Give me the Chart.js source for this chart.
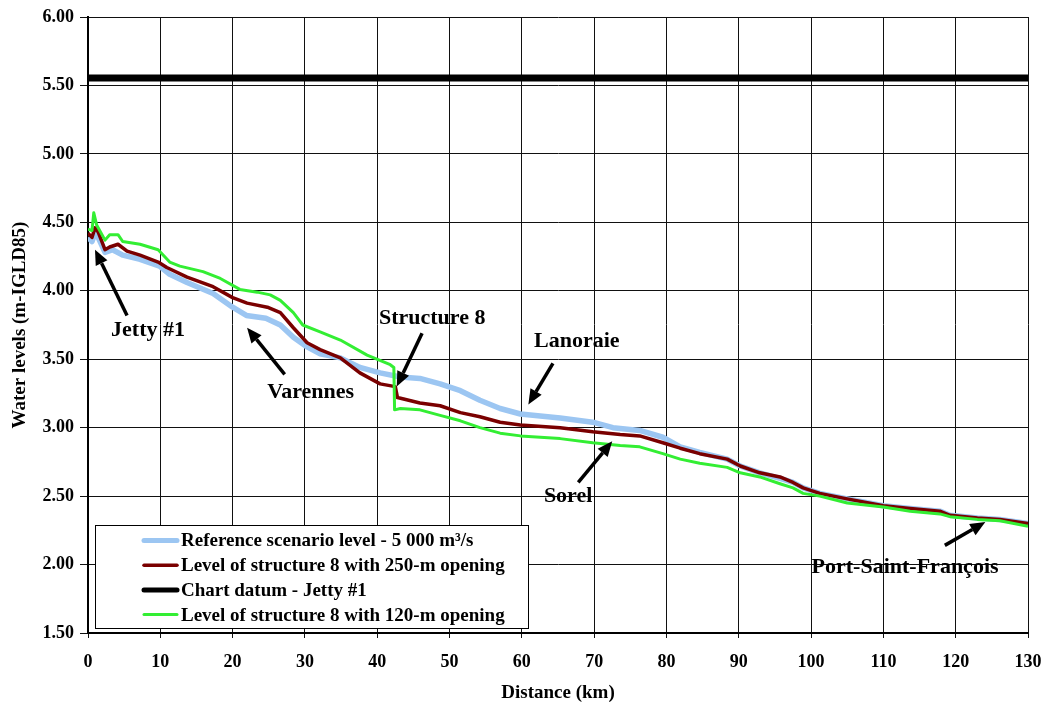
<!DOCTYPE html>
<html><head><meta charset="utf-8">
<script src="https://cdn.jsdelivr.net/npm/chart.js@4.4.1/dist/chart.umd.min.js"></script>
<style>html,body{margin:0;padding:0;background:#fff;}#wrap{position:relative;width:1043px;height:704px;}</style>
</head><body><div id="wrap"><canvas id="c" width="1043" height="704"></canvas></div>
<script>
// ---- Data ----
const refKm    = [0, 0.55, 0.97, 1.4, 2.35, 3.4, 4.8, 7.2, 9.9, 11.3, 13.7, 17.3, 20.0, 21.9, 24.6, 26.6, 28.4, 30.3, 32.1, 34.9, 37.6, 40.4, 43.2, 45.9, 48.7, 51.5, 54.2, 57.0, 59.8, 65.3, 69.8, 72.6, 76.3, 79.5, 81.9, 84.6, 88.4, 90.2, 92.9, 95.7, 97.5, 98.9, 101.2, 105.0, 110.0, 113.7, 117.8, 119.2, 123.0, 126.1, 130];
const refLevel = [4.39, 4.36, 4.42, 4.39, 4.28, 4.30, 4.26, 4.23, 4.18, 4.12, 4.06, 3.98, 3.88, 3.82, 3.80, 3.75, 3.66, 3.59, 3.54, 3.51, 3.44, 3.40, 3.37, 3.36, 3.32, 3.27, 3.20, 3.14, 3.10, 3.07, 3.04, 3.00, 2.98, 2.93, 2.86, 2.82, 2.77, 2.72, 2.67, 2.63, 2.60, 2.56, 2.52, 2.48, 2.43, 2.41, 2.39, 2.36, 2.34, 2.33, 2.30];

const s250Km    = [0, 0.55, 0.97, 1.4, 2.35, 3.0, 4.15, 5.4, 7.2, 9.7, 10.9, 13.7, 17.3, 20.0, 22.0, 24.8, 26.6, 28.4, 30.3, 32.1, 34.9, 37.6, 40.4, 42.5, 42.8, 45.9, 48.7, 51.5, 54.2, 57.0, 59.8, 65.3, 69.8, 73.6, 76.3, 79.5, 81.9, 84.6, 88.4, 90.2, 92.9, 95.7, 97.5, 98.9, 101.2, 105.0, 110.0, 113.7, 117.8, 119.2, 123.0, 126.1, 130];
const s250Level = [4.42, 4.39, 4.46, 4.43, 4.30, 4.32, 4.34, 4.29, 4.26, 4.21, 4.17, 4.10, 4.03, 3.95, 3.91, 3.88, 3.84, 3.73, 3.62, 3.57, 3.51, 3.40, 3.32, 3.30, 3.22, 3.18, 3.16, 3.11, 3.08, 3.04, 3.02, 3.00, 2.97, 2.95, 2.94, 2.89, 2.85, 2.81, 2.77, 2.72, 2.67, 2.64, 2.60, 2.56, 2.52, 2.48, 2.43, 2.41, 2.39, 2.36, 2.34, 2.33, 2.30];

const datumKm    = [0, 130];
const datumLevel = [5.555, 5.555];

const s120Km    = [0, 0.55, 0.8, 1.2, 2.35, 3.0, 4.15, 4.8, 7.2, 9.7, 11.3, 12.7, 15.9, 18.3, 21.0, 23.4, 25.2, 26.6, 28.4, 29.7, 32.1, 34.9, 38.6, 41.8, 42.3, 42.4, 43.2, 45.9, 48.7, 51.5, 54.2, 57.0, 59.8, 65.3, 69.8, 73.6, 76.3, 79.5, 81.9, 84.6, 88.4, 90.2, 92.9, 95.7, 97.5, 98.9, 101.2, 105.0, 110.0, 113.7, 117.8, 119.2, 123.0, 126.1, 130];
const s120Level = [4.45, 4.44, 4.57, 4.48, 4.37, 4.41, 4.41, 4.36, 4.34, 4.30, 4.21, 4.18, 4.14, 4.09, 4.01, 3.99, 3.97, 3.93, 3.84, 3.75, 3.70, 3.64, 3.53, 3.46, 3.44, 3.13, 3.14, 3.13, 3.09, 3.05, 3.00, 2.96, 2.94, 2.92, 2.89, 2.87, 2.86, 2.81, 2.77, 2.74, 2.71, 2.67, 2.64, 2.59, 2.56, 2.52, 2.50, 2.45, 2.42, 2.39, 2.37, 2.35, 2.33, 2.32, 2.28];

const seriesLabels = ['Reference scenario level - 5 000 m³/s', 'Level of structure 8 with 250-m opening', 'Chart datum - Jetty #1', 'Level of structure 8 with 120-m opening'];

// annotations (data units)
const annLabels      = ['Jetty #1', 'Varennes', 'Structure 8', 'Lanoraie', 'Sorel', 'Port-Saint-François'];
const annTextKm      = [8.3, 30.8, 47.6, 67.6, 66.4, 113.0];
const annTextLevel   = [3.71, 3.26, 3.80, 3.63, 2.50, 1.98];
const arrowFromKm    = [5.4, 27.2, 46.2, 64.3, 67.8, 118.5];
const arrowFromLevel = [3.82, 3.39, 3.69, 3.47, 2.60, 2.14];
const arrowToKm      = [0.97, 22.0, 42.7, 60.9, 72.5, 124.1];
const arrowToLevel   = [4.30, 3.73, 3.30, 3.17, 2.90, 2.31];

const pts = (xs, ys) => xs.map((x, i) => ({x: x, y: ys[i]}));
const FONT = '"Liberation Serif", "Times New Roman", serif';

const colors = ['#9cc6f2', '#7a0000', '#000000', '#33ee33'];
const widths = [5.5, 3.5, 7, 3];

const overlay = {
  id: 'overlay',
  afterDraw(chart) {
    const ctx = chart.ctx, xs = chart.scales.x, ys = chart.scales.y;
    ctx.save();
    // annotations
    ctx.font = 'bold 22px ' + FONT;
    ctx.fillStyle = '#000';
    ctx.textAlign = 'center';
    ctx.textBaseline = 'middle';
    for (let i = 0; i < annLabels.length; i++) {
      ctx.fillText(annLabels[i], xs.getPixelForValue(annTextKm[i]), ys.getPixelForValue(annTextLevel[i]));
      const x1 = xs.getPixelForValue(arrowFromKm[i]), y1 = ys.getPixelForValue(arrowFromLevel[i]);
      const x2 = xs.getPixelForValue(arrowToKm[i]), y2 = ys.getPixelForValue(arrowToLevel[i]);
      const a = Math.atan2(y2 - y1, x2 - x1), hl = 15, hw = 6.5;
      const bx = x2 - hl * Math.cos(a), by = y2 - hl * Math.sin(a);
      ctx.strokeStyle = '#000'; ctx.lineWidth = 3.5; ctx.lineCap = 'butt';
      ctx.beginPath(); ctx.moveTo(x1, y1); ctx.lineTo(bx, by); ctx.stroke();
      ctx.beginPath();
      ctx.moveTo(x2, y2);
      ctx.lineTo(bx + hw * Math.sin(a), by - hw * Math.cos(a));
      ctx.lineTo(bx - hw * Math.sin(a), by + hw * Math.cos(a));
      ctx.closePath(); ctx.fill();
    }
    // legend box
    const L = 95, T = 525, W = 433, H = 103;
    ctx.fillStyle = '#fff';
    ctx.fillRect(L, T, W, H);
    ctx.strokeStyle = '#000'; ctx.lineWidth = 1;
    ctx.strokeRect(L + 0.5, T + 0.5, W, H);
    ctx.font = 'bold 19px ' + FONT;
    ctx.textAlign = 'left';
    [0, 1, 2, 3].forEach((di, r) => {
      const ds = chart.data.datasets[di];
      const y = T + 15.5 + r * 24.7;
      ctx.strokeStyle = ds.borderColor; ctx.lineWidth = Math.min(ds.borderWidth, 5); ctx.lineCap = 'round';
      ctx.beginPath(); ctx.moveTo(144, y); ctx.lineTo(177, y); ctx.stroke();
      ctx.fillStyle = '#000';
      ctx.fillText(ds.label, 181, y + 1);
    });
    ctx.restore();
  }
};

new Chart(document.getElementById('c'), {
  type: 'line',
  data: {
    datasets: [
      {label: seriesLabels[0], data: pts(refKm, refLevel), borderColor: colors[0], borderWidth: widths[0], order: 4},
      {label: seriesLabels[1], data: pts(s250Km, s250Level), borderColor: colors[1], borderWidth: widths[1], order: 3},
      {label: seriesLabels[2], data: pts(datumKm, datumLevel), borderColor: colors[2], borderWidth: widths[2], order: 1},
      {label: seriesLabels[3], data: pts(s120Km, s120Level), borderColor: colors[3], borderWidth: widths[3], order: 2}
    ].map(d => Object.assign(d, {pointRadius: 0, tension: 0, fill: false, borderJoinStyle: 'round', borderCapStyle: 'butt'}))
  },
  options: {
    responsive: false,
    animation: false,
    devicePixelRatio: 1,
    layout: {padding: {top: 17, right: 15, left: 0, bottom: 0}},
    plugins: {legend: {display: false}, tooltip: {enabled: false}},
    scales: {
      x: {
        type: 'linear', min: 0, max: 130,
        ticks: {stepSize: 10, color: '#000', font: {family: FONT, weight: 'bold', size: 18}, padding: 14, maxRotation: 0},
        grid: {color: '#111', lineWidth: 1, tickLength: 5},
        border: {color: '#000', width: 2},
        title: {display: true, text: 'Distance (km)', color: '#000', font: {family: FONT, weight: 'bold', size: 19}, padding: {top: 8, bottom: 0}},
        afterFit(s) { s.height = 71; s.paddingLeft = 0; s.paddingRight = 0; }
      },
      y: {
        type: 'linear', min: 1.5, max: 6,
        ticks: {stepSize: 0.5, color: '#000', font: {family: FONT, weight: 'bold', size: 18}, padding: 6, callback: v => v.toFixed(2)},
        grid: {color: '#111', lineWidth: 1, tickLength: 8},
        border: {color: '#000', width: 2},
        title: {display: true, text: 'Water levels (m-IGLD85)', color: '#000', font: {family: FONT, weight: 'bold', size: 19}, padding: {top: 9, bottom: 0}},
        afterFit(s) { s.width = 88; s.paddingTop = 0; s.paddingBottom = 0; }
      }
    }
  },
  plugins: [overlay]
});
</script></body></html>
